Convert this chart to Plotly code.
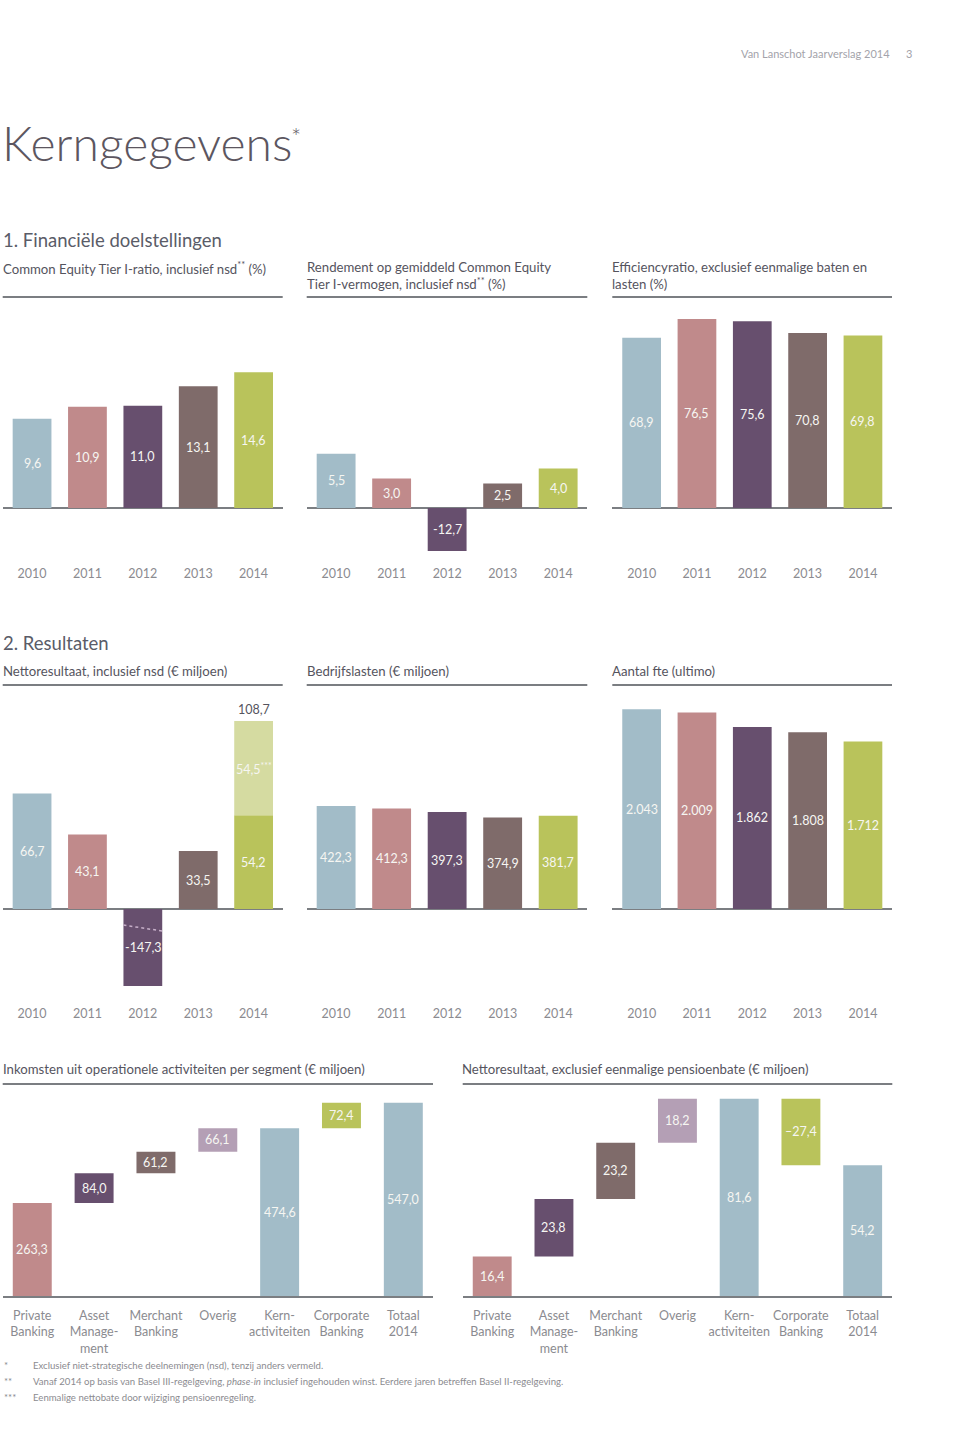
import plotly.graph_objects as go

W, H = 960, 1452
FONT = "Lato"

# ---------------- data ----------------
years = ["2010", "2011", "2012", "2013", "2014"]
cet1_ratio = [9.6, 10.9, 11.0, 13.1, 14.6]
rendement = [5.5, 3.0, -12.7, 2.5, 4.0]
efficiencyratio = [68.9, 76.5, 75.6, 70.8, 69.8]
nettoresultaat = [66.7, 43.1, -147.3, 33.5, 54.2]
pensioenbate_2014 = 54.5
bedrijfslasten = [422.3, 412.3, 397.3, 374.9, 381.7]
aantal_fte = [2043, 2009, 1862, 1808, 1712]

segments = ["Private<br>Banking", "Asset<br>Manage-<br>ment", "Merchant<br>Banking", "Overig",
            "Kern-<br>activiteiten", "Corporate<br>Banking", "Totaal<br>2014"]
segment_types = ["delta", "delta", "delta", "delta", "total", "delta", "total"]
inkomsten_segment = [263.3, 84.0, 61.2, 66.1, 474.6, 72.4, 547.0]
netto_excl_pensioen = [16.4, 23.8, 23.2, 18.2, 81.6, -27.4, 54.2]

# ---------------- styles ----------------
BLUE = "#a2bcc8"
PINK = "#c08a8b"
PURPLE = "#674f6e"
BROWN = "#7f6b6a"
GREEN = "#b9c35b"
LIGHTGREEN = "#d5dba1"
MAUVE = "#b49fb5"
year_colors = [BLUE, PINK, PURPLE, BROWN, GREEN]
segment_colors = [PINK, PURPLE, BROWN, MAUVE, BLUE, GREEN, BLUE]

LINE = "#7b7e82"
TEXT_DARK = "#55545e"
TEXT_GRAY = "#8b8b90"
LABEL_WHITE = "#f6f6f2"


def fx(px):
    return px / W


def fy(py):
    return 1 - py / H


def nl(v, dec=1, neg="-"):
    s = f"{abs(v):,.{dec}f}".replace(",", "X").replace(".", ",").replace("X", ".")
    return (neg + s) if v < 0 else s


fig = go.Figure()
layout = {}
annotations = []
shapes = []


def names(n):
    if n == 1:
        return "xaxis", "yaxis", "x", "y"
    return f"xaxis{n}", f"yaxis{n}", f"x{n}", f"y{n}"


def setup_axes(n, xdom, ydom, zero_px, ppu, xrange, tickvals, ticktext, standoff, baseline_line=False):
    xa, ya, _, _ = names(n)
    top, bottom = ydom
    ymin = -(bottom - zero_px) / ppu
    ymax = (zero_px - top) / ppu
    layout[xa] = dict(domain=[fx(xdom[0]), fx(xdom[1])], range=xrange, anchor=names(n)[3],
                      tickvals=tickvals, ticktext=ticktext, showgrid=False, zeroline=False,
                      showline=baseline_line, linecolor=LINE, linewidth=1.5, ticks="",
                      tickfont=dict(family=FONT, size=12.5, color=TEXT_GRAY),
                      ticklabelstandoff=standoff, fixedrange=True)
    layout[ya] = dict(domain=[fy(bottom), fy(top)], range=[ymin, ymax], anchor=names(n)[2],
                      showgrid=False, showticklabels=False, ticks="",
                      zeroline=not baseline_line, zerolinecolor=LINE, zerolinewidth=1.5,
                      fixedrange=True)
    return ymin, ymax


def add_label(n, x, lo, hi, ymin, ymax, text, color=LABEL_WHITE):
    _, _, xr, yr = names(n)
    a = max(min(lo, hi), ymin)
    b = min(max(lo, hi), ymax)
    annotations.append(dict(x=x, y=(a + b) / 2, xref=xr, yref=yr, text=text, showarrow=False,
                            font=dict(family=FONT, size=12.5, color=color)))


ROW1 = dict(ydom=(300, 551), zero=508, standoff=13)
ROW2 = dict(ydom=(690, 986), zero=909, standoff=18)
COLS = [(2.7, 282.7), (306.7, 587.3), (612.3, 892)]
YR = [-0.53, 4.525]
idx = list(range(len(years)))


def year_chart(n, values, ppu, row, col, dec=1):
    ymin, ymax = setup_axes(n, COLS[col], row["ydom"], row["zero"], ppu, YR, idx, years, row["standoff"])
    _, _, xr, yr = names(n)
    fig.add_trace(go.Bar(x=idx, y=values, width=0.7, marker=dict(color=year_colors, line=dict(width=0)),
                         xaxis=xr, yaxis=yr, hoverinfo="skip"))
    for i, v in enumerate(values):
        add_label(n, i, 0, v, ymin, ymax, nl(v, dec))
    return ymin, ymax


year_chart(1, cet1_ratio, 9.3, ROW1, 0)
year_chart(2, rendement, 9.85, ROW1, 1)
year_chart(3, efficiencyratio, 2.47, ROW1, 2)

# chart 4: nettoresultaat with stacked pension gain in 2014
ymin4, ymax4 = year_chart(4, nettoresultaat, 1.73, ROW2, 0)
fig.add_trace(go.Bar(x=[4], y=[pensioenbate_2014], base=[nettoresultaat[4]], width=0.7,
                     marker=dict(color=LIGHTGREEN, line=dict(width=0)), xaxis="x4", yaxis="y4",
                     hoverinfo="skip"))
add_label(4, 4, nettoresultaat[4], nettoresultaat[4] + pensioenbate_2014, ymin4, ymax4,
          nl(pensioenbate_2014) + "<sup>***</sup>")
total_2014 = nettoresultaat[4] + pensioenbate_2014
annotations.append(dict(x=4, y=total_2014, xref="x4", yref="y4", text=nl(total_2014), showarrow=False,
                        yanchor="bottom", yshift=2, font=dict(family=FONT, size=12.5, color=TEXT_DARK)))
# break marker on the truncated 2012 bar
shapes.append(dict(type="line", xref="x4", yref="y4", x0=2 - 0.35, x1=2 + 0.35, y0=-9.3, y1=-12.7,
                   line=dict(color="#c6afc9", width=1.5, dash="3px,3px")))

year_chart(5, bedrijfslasten, 0.244, ROW2, 1)
year_chart(6, aantal_fte, 0.0978, ROW2, 2, dec=0)

# waterfall charts
ROW3_YDOM = (1090, 1296.3)
WCOLS = [(2.7, 433), (462.7, 892.3)]
WR = [-0.478, 6.48]
sidx = list(range(len(segments)))


def waterfall(n, values, ppu, col, neg="-"):
    ymin, ymax = setup_axes(n, WCOLS[col], ROW3_YDOM, ROW3_YDOM[1], ppu, WR, sidx, segments, 7,
                            baseline_line=True)
    _, _, xr, yr = names(n)
    bases = []
    running = 0.0
    for v, t in zip(values, segment_types):
        if t == "total":
            bases.append(0.0)
            running = v
        else:
            bases.append(running)
            running += v
    fig.add_trace(go.Bar(x=sidx, y=values, base=bases, width=0.63,
                         marker=dict(color=segment_colors, line=dict(width=0)),
                         xaxis=xr, yaxis=yr, hoverinfo="skip"))
    for i, (v, b) in enumerate(zip(values, bases)):
        add_label(n, i, b, b + v, ymin, ymax, nl(v, 1, neg))


waterfall(7, inkomsten_segment, 0.354, 0)
waterfall(8, netto_excl_pensioen, 2.42, 1, neg="–")


# ---------------- texts ----------------
def txt(x, y, text, size, color=TEXT_DARK, xanchor="left", weight=None, yanchor="middle"):
    f = dict(family=FONT, size=size, color=color)
    if weight:
        f["weight"] = weight
    annotations.append(dict(x=fx(x), y=fy(y), xref="paper", yref="paper", text=text, showarrow=False,
                            xanchor=xanchor, yanchor=yanchor, align="left", font=f))


txt(892, 53, "Van Lanschot Jaarverslag 2014", 11, "#a3a3aa", xanchor="right")
txt(909, 53, "3", 11, "#a3a3aa", xanchor="center")
txt(0, 142, "Kerngegevens", 48, "#5c5660", weight=300)
txt(289, 136, "*", 24, "#5c5660", weight=300)
txt(1, 240, "1. Financiële doelstellingen", 18.5, "#5a5c68")
txt(1, 643, "2. Resultaten", 18.5, "#5a5c68")

SUB = 13.2
txt(1, 268, "Common Equity Tier I-ratio, inclusief nsd<sup>**</sup> (%)", SUB)
txt(305, 275, "Rendement op gemiddeld Common Equity<br>Tier I-vermogen, inclusief nsd<sup>**</sup> (%)", SUB)
txt(610, 275, "Efficiencyratio, exclusief eenmalige baten en<br>lasten (%)", SUB)
txt(1, 671, "Nettoresultaat, inclusief nsd (€ miljoen)", SUB)
txt(305, 671, "Bedrijfslasten (€ miljoen)", SUB)
txt(610, 671, "Aantal fte (ultimo)", SUB)
txt(1, 1069, "Inkomsten uit operationele activiteiten per segment (€ miljoen)", SUB)
txt(460, 1069, "Nettoresultaat, exclusief eenmalige pensioenbate (€ miljoen)", SUB)

for (x0, x1) in COLS:
    for yline in (297, 685):
        shapes.append(dict(type="line", xref="paper", yref="paper", x0=fx(x0), x1=fx(x1),
                           y0=fy(yline), y1=fy(yline), line=dict(color=LINE, width=2)))
for (x0, x1) in WCOLS:
    shapes.append(dict(type="line", xref="paper", yref="paper", x0=fx(x0), x1=fx(x1),
                       y0=fy(1084), y1=fy(1084), line=dict(color=LINE, width=2)))

FN = 9.6
notes = [
    ("*", "Exclusief niet-strategische deelnemingen (nsd), tenzij anders vermeld."),
    ("**", "Vanaf 2014 op basis van Basel III-regelgeving, <i>phase-in</i> inclusief ingehouden winst. "
           "Eerdere jaren betreffen Basel II-regelgeving."),
    ("***", "Eenmalige nettobate door wijziging pensioenregeling."),
]
for k, (star, note) in enumerate(notes):
    yy = 1365 + 16 * k
    txt(2, yy, star, FN, TEXT_GRAY)
    txt(31, yy, note, FN, TEXT_GRAY)

fig.update_layout(width=W, height=H, margin=dict(l=0, r=0, t=0, b=0), paper_bgcolor="white",
                  plot_bgcolor="rgba(0,0,0,0)", showlegend=False, barmode="overlay",
                  annotations=annotations, shapes=shapes, **layout)

fig.write_html("out.html", config={"displayModeBar": False},
               post_script="document.body.style.margin='0px';")
